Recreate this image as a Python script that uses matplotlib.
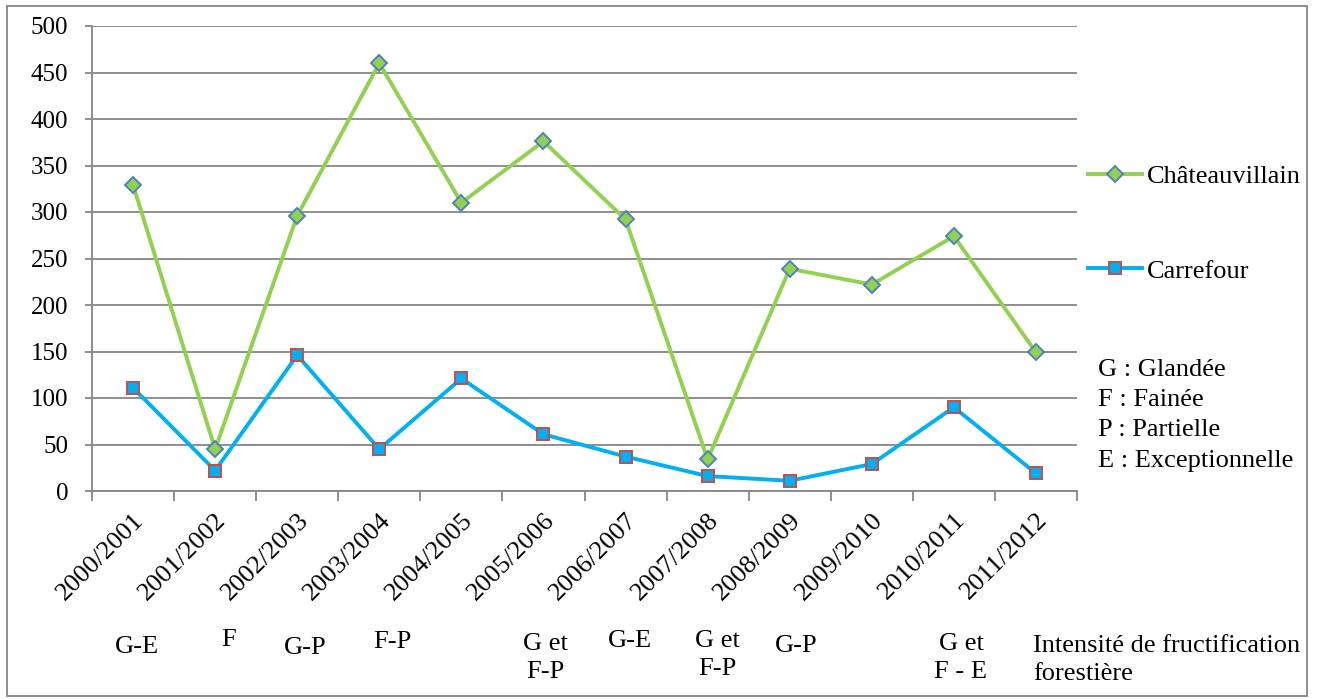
import matplotlib
matplotlib.use("Agg")
import matplotlib.pyplot as plt
from matplotlib.patches import Rectangle
import numpy as np

categories = ["2000/2001", "2001/2002", "2002/2003", "2003/2004", "2004/2005", "2005/2006",
              "2006/2007", "2007/2008", "2008/2009", "2009/2010", "2010/2011", "2011/2012"]
chateauvillain = [329, 45, 296, 460, 310, 376, 292, 34, 239, 222, 274, 149]
carrefour = [111, 22, 146, 45, 121, 61, 37, 16, 11, 29, 90, 19]
y_ticks = [0, 50, 100, 150, 200, 250, 300, 350, 400, 450, 500]
intensity_labels = ["G-E", "F", "G-P", "F-P", "", "G et\nF-P", "G-E", "G et\nF-P", "G-P", "", "G et\nF - E", ""]

plt.rcParams['font.family'] = ['Liberation Serif', 'DejaVu Serif']

W, H = 1319, 699
fig = plt.figure(figsize=(W / 100, H / 100), dpi=100)
ax = fig.add_axes([92 / W, 1 - 491 / H, (1077 - 92) / W, (491 - 26) / H])

x = np.arange(len(categories))
green = "#92D050"
blue = "#00B0F0"
l1, = ax.plot(x, chateauvillain, color=green, lw=2.8, marker="D", ms=8.5,
              mfc=green, mec="#4F81BD", mew=1.4, label="Châteauvillain", zorder=3)
l2, = ax.plot(x, carrefour, color=blue, lw=2.8, marker="s", ms=8.2,
              mfc=blue, mec="#C0504D", mew=1.4, label="Carrefour", zorder=3)

ax.set_xlim(-0.5, len(categories) - 0.5)
ax.set_ylim(0, 500)
ax.set_yticks(y_ticks)
ax.set_yticklabels([str(v) for v in y_ticks], fontsize=18)
ax.yaxis.grid(True, color="#868686", lw=1.3)
ax.set_axisbelow(True)
for s in ["top", "right"]:
    ax.spines[s].set_visible(False)
for s in ["left", "bottom"]:
    ax.spines[s].set_color("#868686")
    ax.spines[s].set_linewidth(1.3)
ax.tick_params(axis="y", length=5, width=1.3, color="#868686", pad=12)

ax.set_xticks(x)
ax.set_xticklabels(categories, rotation=45, ha="right", rotation_mode="anchor", fontsize=19)
ax.set_xticks(np.arange(-0.5, len(categories)), minor=True)
ax.tick_params(axis="x", which="major", length=0, pad=13)
ax.tick_params(axis="x", which="minor", length=7, width=1.3, color="#868686")

leg = fig.legend(handles=[l1, l2], loc="upper left", bbox_to_anchor=(1088 / W, 1 - 165 / H),
                 frameon=False, fontsize=19, labelspacing=2.68, handlelength=2.05,
                 handletextpad=0.2, borderaxespad=0, borderpad=0)

abbrev = ["G : Glandée", "F : Fainée", "P : Partielle", "E : Exceptionnelle"]
abbrev_y = [370, 400, 430, 461]
for t, py in zip(abbrev, abbrev_y):
    fig.text(1098 / W, 1 - py / H, t, fontsize=19, va="center", ha="left")

label_pos = {0: (137, 647), 1: (229, 640), 2: (305, 648), 3: (392, 642), 5: (545, 658),
             6: (630, 641), 7: (717, 655), 8: (796, 646), 10: (961, 658)}
for i, t in enumerate(intensity_labels):
    if t:
        px, py = label_pos[i]
        fig.text(px / W, 1 - py / H, t, fontsize=19, ha="center", va="center",
                 multialignment="center", linespacing=1.3)
fig.text(1033 / W, 1 - 660 / H, "Intensité de fructification\nforestière", fontsize=19,
         ha="left", va="center", linespacing=1.3)

fig.patches.append(Rectangle((7 / W, 3 / H), 1300 / W, 690 / H, transform=fig.transFigure,
                             fill=False, edgecolor="#868686", lw=1.3))

fig.savefig("out.png", dpi=100)
